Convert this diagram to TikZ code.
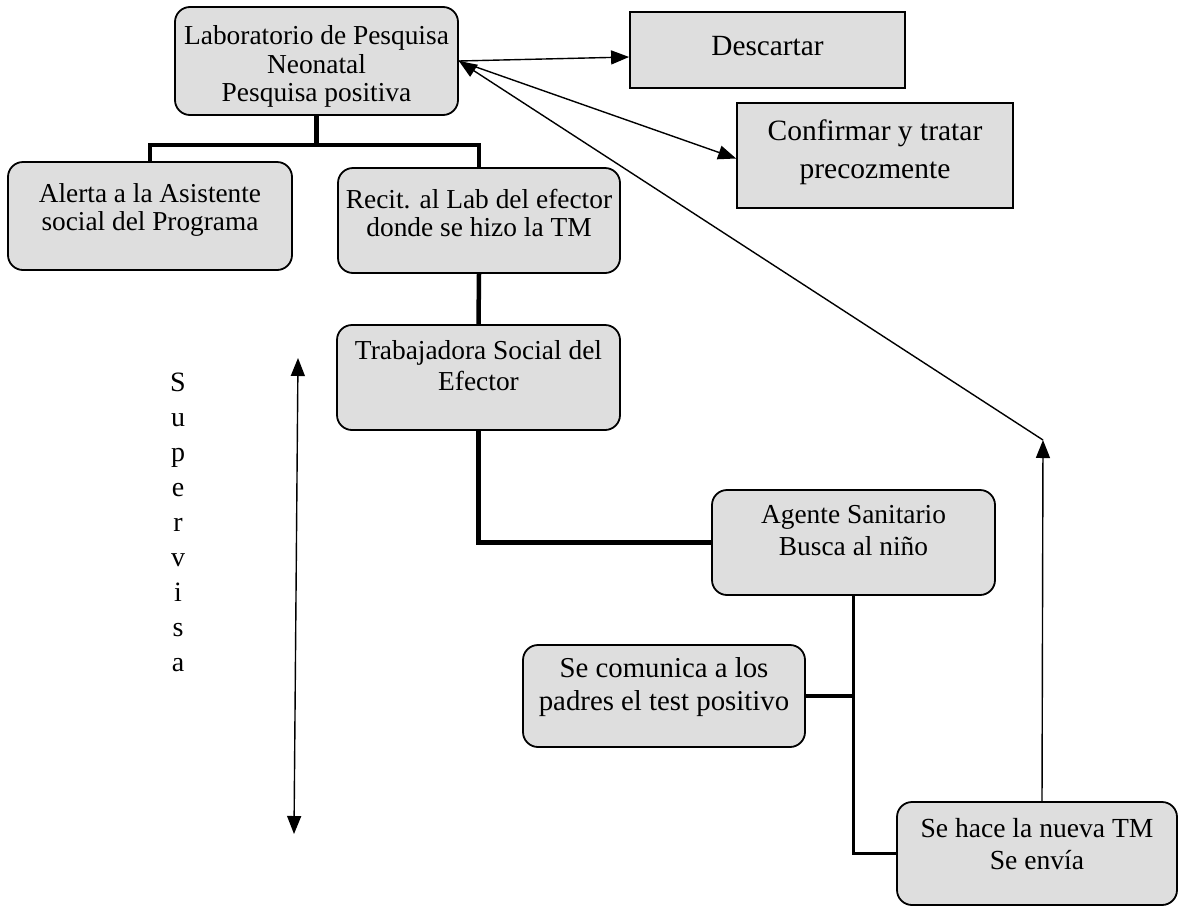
\documentclass[tikz,border=0pt]{standalone}
\usepackage{fontspec}
\setmainfont{Liberation Serif}
\usetikzlibrary{arrows.meta,calc}
\newcommand\upby[1]{\rule[-#1]{0pt}{0pt}}
\newcommand\dnby[1]{\rule{0pt}{#1}}
\begin{document}
\begin{tikzpicture}[x=1pt,y=-1pt,
  fs/.style 2 args={font=\fontsize{#1}{#2}\selectfont},
  every node/.style={fs={27.4}{30}},
  rbox/.style={draw=black, line width=1.8pt, fill=black!13, rounded corners=15pt,
     align=center, inner sep=0pt},
  sbox/.style={draw=black, line width=1.8pt, fill=black!13, align=center, inner sep=0pt},
  tree/.style={line width=4.5pt},
  tree2/.style={line width=3.5pt},
  arr/.style={line width=1.4pt, -{Triangle[length=18pt,width=14pt]}},
  darr/.style={line width=1.4pt, {Triangle[length=18pt,width=14pt]}-{Triangle[length=18pt,width=14pt]}}
]
\useasboundingbox (0,0) rectangle (1183,908);

\node[rbox, fs={27.4}{28.5}, minimum width=283pt, minimum height=108pt] (lab) at (316.5,61)
  {\dnby{30pt}Laboratorio de Pesquisa\\Neonatal\\Pesquisa positiva};
\node[sbox, fs={29.3}{36}, minimum width=275pt, minimum height=76pt] (desc) at (767.5,50)
  {Descartar\upby{8pt}};
\node[sbox, fs={29.5}{38}, minimum width=276pt, minimum height=105pt] (conf) at (875,155.5)
  {Confirmar y tratar\\precozmente\upby{12.4pt}};
\node[rbox, fs={27.3}{28}, minimum width=284pt, minimum height=108pt] (alerta) at (150,216)
  {Alerta a la Asistente\\social del Programa\upby{18pt}};
\node[rbox, fs={27.4}{28}, minimum width=282pt, minimum height=105pt] (recit) at (479,220.5)
  {Recit. al Lab del efector\\donde se hizo la TM\upby{16pt}};
\node[rbox, fs={27.4}{31}, minimum width=283pt, minimum height=105pt] (trab) at (478.5,377.5)
  {Trabajadora Social del\\Efector\upby{24pt}};
\node[rbox, fs={27.4}{31.7}, minimum width=283pt, minimum height=105pt] (agente) at (853.5,542.5)
  {Agente Sanitario\\Busca al niño\upby{24pt}};
\node[rbox, fs={28.8}{33}, minimum width=282pt, minimum height=102pt] (comun) at (664,696)
  {Se comunica a los\\padres el test positivo\upby{25pt}};
\node[rbox, fs={27.6}{31.7}, minimum width=280pt, minimum height=103pt] (sehace) at (1037,853.5)
  {Se hace la nueva TM\\Se envía\upby{19pt}};

\node[align=center, fs={28}{35}] (sup) at (178,522)
  {S\\u\\p\\e\\r\\v\\i\\s\\a};

% tree connectors
\coordinate (j1) at (316.5,145);
\draw[tree] (lab.south) -- (j1);
\draw[tree] (alerta.north) |- (j1) -| (recit.north);
\draw[tree] (recit.south) -- (trab.north);
\draw[tree] (trab.south) |- (agente.west);
\draw[tree2] (agente.south) |- (sehace.west);
\draw[tree2] (comun.east) -- (comun.east -| agente.south);

% arrows
\draw[arr] (lab.east) -- ([yshift=-7pt]desc.west);
\draw[arr] (lab.east) -- ([yshift=-3pt]conf.west);
\coordinate (top) at (1043,440);
\draw[arr] ([xshift=5pt]sehace.north) -- (top);
\draw[arr] (top) -- (lab.east);

\coordinate (sa) at (298,358);
\coordinate (sb) at (294,834);
\draw[darr] (sb) -- (sa);
\end{tikzpicture}
\end{document}
